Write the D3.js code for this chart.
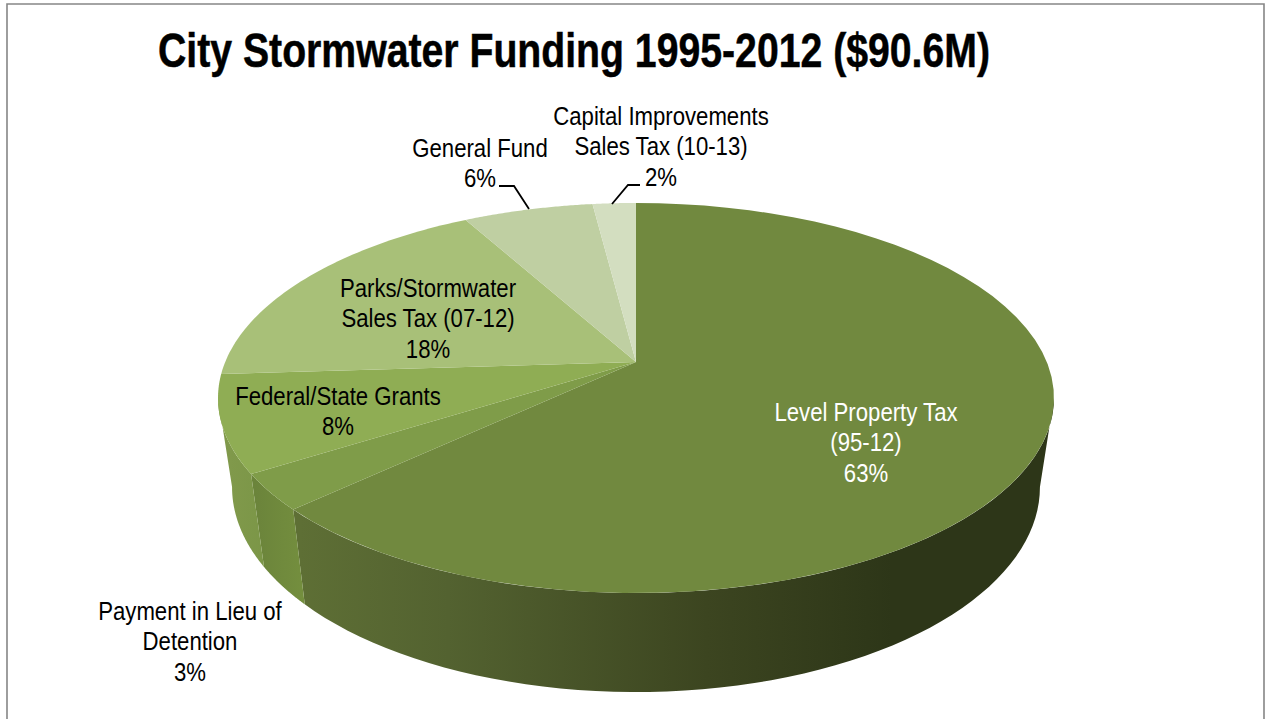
<!DOCTYPE html>
<html>
<head>
<meta charset="utf-8">
<script src="https://cdn.jsdelivr.net/npm/d3@7/dist/d3.min.js"></script>
<style>
html,body{margin:0;padding:0;background:#fff;overflow:hidden}
svg{display:block}
text{font-family:"Liberation Sans",Arial,sans-serif;font-size:25px}
</style>
</head>
<body>
<svg id="chart" width="1265" height="719"></svg>
<script>
// Funding sources, clockwise from twelve o'clock
const titleText = "City Stormwater Funding 1995-2012 ($90.6M)";
const categories = [
  ["Level Property Tax", "(95-12)"],
  ["Payment in Lieu of", "Detention"],
  ["Federal/State Grants"],
  ["Parks/Stormwater", "Sales Tax (07-12)"],
  ["General Fund"],
  ["Capital Improvements", "Sales Tax (10-13)"]
];
const shares = [63, 3, 8, 18, 6, 2];

const topColors = ["#71893f", "#7f9c49", "#8fad54", "#a8c078", "#bfcfa2", "#d3dec0"];
const sideStops = [
  [["#5e6f35", 0], ["#536230", 0.2], ["#3c4520", 0.55], ["#2d3618", 0.8]],
  [["#6b843b", 0], ["#76913f", 1]],
  [["#80994b", 0], ["#7b9647", 1]]
];

const svg = d3.select("#chart");
const defs = svg.append("defs");

// Frame around the chart area; its lower edge runs off the page
svg.append("path")
  .attr("d", "M7,719V4H1264V719")
  .attr("fill", "none").attr("stroke", "#868686").attr("stroke-width", 1.6);

// The installed sans is wider than the condensed face wanted here, so text is squeezed horizontally
svg.append("text").text(titleText)
  .attr("transform", "translate(574,67) scale(0.8,1)")
  .attr("text-anchor", "middle")
  .attr("stroke", "#000").attr("stroke-width", 0.5)
  .style("font-weight", "700").style("font-size", "49px");

// Perspective disc: a unit circle projected so that its centre sits above the ellipse centre
const cx = 636, tilt = 0.1846;
const project = (theta, level) => {
  const u = Math.sin(theta), v = -Math.cos(theta), w = 1 - tilt * v;
  return [cx + level.a * u / w, level.y + level.b * v / w];
};
const topLevel = {a: 410.8, b: 188.4, y: 362};
const baseLevel = {a: 397, b: 198, y: 449.2};

const pie = d3.pie().sort(null)(shares);
const tau = 2 * Math.PI;
const silhouette = Math.acos(-tilt);
const line = d3.line();
const sample = (a0, a1, level) => d3.range(0, 61).map(i => project(a0 + (a1 - a0) * i / 60, level));

// Rim: dark gradient under the main slice, lighter ones on the left
const sideColor = i => i === 0 ? "url(#rim0)" : i === 1 ? "url(#rim1)" : i === 2 ? "url(#rim2)" : "#8fad54";
[[0, 300, 1040], [1, 255, 315], [2, 230, 265]].forEach(([i, x1, x2], k) => {
  const g = defs.append("linearGradient").attr("id", "rim" + i)
    .attr("gradientUnits", "userSpaceOnUse")
    .attr("x1", x1).attr("x2", x2).attr("y1", 0).attr("y2", 0);
  sideStops[k].forEach(([c, o]) => g.append("stop").attr("offset", o).attr("stop-color", c));
});
pie.forEach((d, i) => {
  const a0 = Math.max(d.startAngle, silhouette), a1 = Math.min(d.endAngle, tau - silhouette);
  if (a1 <= a0) return;
  const pts = sample(a0, a1, topLevel).concat(sample(a0, a1, baseLevel).reverse());
  svg.append("path").attr("d", line(pts) + "Z").attr("fill", sideColor(i));
});

// Top face
pie.forEach((d, i) => {
  const pts = [[cx, topLevel.y]].concat(sample(d.startAngle, d.endAngle, topLevel));
  svg.append("path").attr("d", line(pts) + "Z").attr("fill", topColors[i]);
});

// Labels: each entry anchors the middle of the first line
const labelAnchors = [[866, 421, "#fff"], [190, 620, "#000"], [338, 405, "#000"], [428, 297, "#000"], [480, 157, "#000"], [661, 125, "#000"]];
const lineStep = 30.5;
categories.forEach((names, i) => {
  const [x, y, fill] = labelAnchors[i];
  const t = svg.append("text").attr("text-anchor", "middle").attr("fill", fill)
    .attr("transform", `translate(${x},${y}) scale(0.887,1)`);
  names.concat(shares[i] + "%").forEach((s, n) => {
    t.append("tspan").attr("x", 0).attr("y", n * lineStep).text(s);
  });
});

// Leader lines for the two thin slices
[[[499, 186], [514, 186], [529, 209]], [[640, 185], [628, 185], [612, 204]]].forEach(p => {
  svg.append("path").attr("d", line(p)).attr("fill", "none").attr("stroke", "#000").attr("stroke-width", 1.8);
});
</script>
</body>
</html>
